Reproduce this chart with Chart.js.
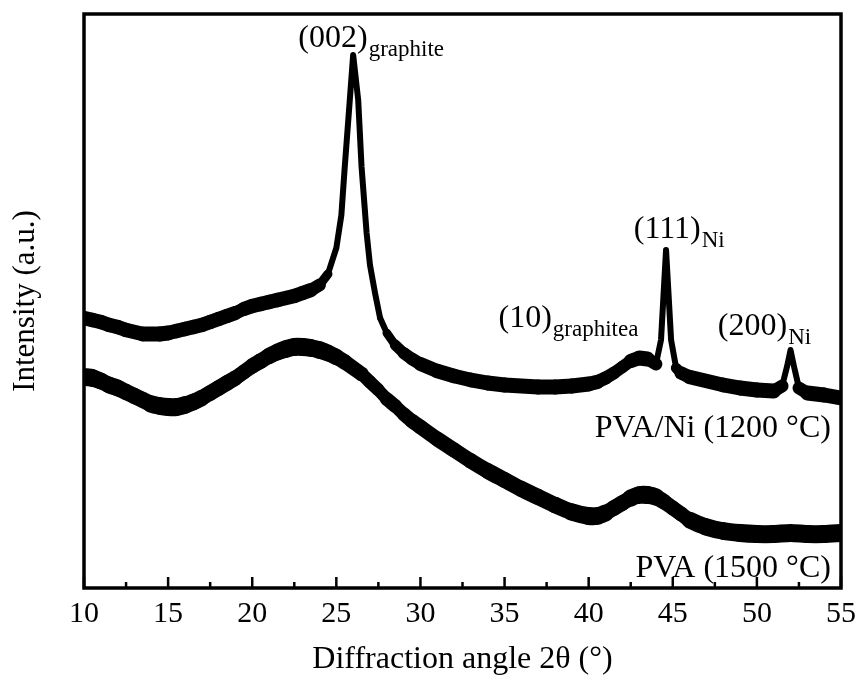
<!DOCTYPE html>
<html>
<head>
<meta charset="utf-8">
<script src="https://cdn.jsdelivr.net/npm/chart.js@4.4.1/dist/chart.umd.min.js"></script>
<style>
  html, body { margin: 0; padding: 0; background: #fff; }
  canvas { display: block; }
</style>
</head>
<body>
<canvas id="xrdChart" width="858" height="682"></canvas>
<script>
// PVA/Ni carbonised at 1200 C
const niAngles = [10, 10.5, 11, 11.5, 12, 12.5, 13, 13.5, 14, 14.5, 15, 15.5, 16, 16.5, 17, 17.5, 18, 18.5, 19, 19.5,
    20, 20.5, 21, 21.5, 22, 22.5, 23, 23.5, 24, 24.5, 25, 25.3, 25.5, 25.8, 26, 26.3, 26.5, 26.8, 27, 27.3, 27.6,
    28, 28.5, 29, 29.5, 30, 31, 32, 33, 34, 35, 36, 37, 38, 39, 40, 40.5, 41, 41.5, 42, 42.5, 43, 43.5, 44,
    44.3, 44.6, 44.9, 45.2, 45.5, 46, 47, 48, 49, 50, 51, 51.5, 51.8, 52, 52.2, 52.5, 53, 54, 55]
const niIntensity = [270, 268, 266, 263, 261, 258, 256, 254, 254, 254, 255, 257, 259, 261, 263, 266, 269, 272, 275, 279,
    282, 284, 286, 288, 290, 292, 295, 298, 303, 314, 340, 373, 421, 488, 533, 488, 421, 355, 323, 295, 270,
    255, 243, 235, 229, 224, 217, 212, 208, 205, 203, 202, 201, 201, 202, 204, 206, 210, 215, 221, 227, 230, 229, 224,
    248, 338, 248, 220, 215, 211, 207, 203, 200, 198, 197, 202, 222, 238, 222, 200, 195, 193, 190]

// PVA carbonised at 1500 C
const pvaAngles = [10, 10.5, 11, 11.5, 12, 12.5, 13, 13.5, 14, 14.5, 15, 15.5, 16, 16.5, 17, 17.5, 18, 18.5, 19, 19.5,
    20, 20.5, 21, 21.5, 22, 22.5, 23, 23.5, 24, 24.5, 25, 25.5, 26, 26.5, 27, 27.5, 28, 28.5, 29, 29.5,
    30, 31, 32, 33, 34, 35, 36, 37, 38, 39, 40, 40.5, 41, 41.5, 42, 42.5, 43, 43.5, 44, 44.5, 45, 45.5,
    46, 47, 48, 49, 50, 51, 52, 53, 54, 55]
const pvaIntensity = [211, 210, 207, 203, 200, 196, 192, 188, 184, 182, 181, 181, 183, 186, 190, 195, 200, 205, 210, 216,
    222, 227, 232, 236, 239, 241, 241, 240, 238, 235, 231, 226, 220, 214, 206, 198, 189, 182, 174, 167,
    161, 149, 138, 127, 117, 108, 99, 91, 83, 76, 72, 72, 75, 80, 85, 90, 93, 93, 91, 86, 80, 74,
    68, 61, 57, 55, 54, 54, 55, 54, 54, 55]

const xTickLabels = [10, 15, 20, 25, 30, 35, 40, 45, 50, 55]

// peak and sample labels, anchored in data units
const notes = [
    { x: 22.74, y: 541, main: '(002)', sub: 'graphite', align: 'left' },
    { x: 34.64, y: 261, main: '(10)', sub: 'graphitea', align: 'left' },
    { x: 42.68, y: 350, main: '(111)', sub: 'Ni', align: 'left' },
    { x: 47.68, y: 253, main: '(200)', sub: 'Ni', align: 'left' },
    { x: 54.4, y: 151, main: 'PVA/Ni (1200 \u00B0C)', sub: '', align: 'right' },
    { x: 54.4, y: 11, main: 'PVA (1500 \u00B0C)', sub: '', align: 'right' }
]

const serif = 'Liberation Serif'

function toPoints(xs, ys) {
    return xs.map((x, i) => ({ x: x, y: ys[i] }))
}

// the noise band keeps its vertical height, so slanted segments get thinner
function bandWidth(band, minW) {
    return ctx => {
        const dx = Math.abs(ctx.p1.x - ctx.p0.x)
        const dy = Math.abs(ctx.p1.y - ctx.p0.y)
        const s = dy / (dx || 1)
        return Math.max(minW, band / Math.sqrt(1 + s * s))
    }
}

const framePlugin = {
    id: 'frame',
    afterDatasetsDraw(chart) {
        const { ctx, chartArea: a, scales } = chart
        ctx.save()
        ctx.strokeStyle = '#000'
        ctx.lineWidth = 3.5
        ctx.strokeRect(a.left, a.top, a.right - a.left, a.bottom - a.top)

        // inward ticks on the bottom axis
        ctx.lineWidth = 2.5
        scales.x.ticks.forEach(t => {
            const px = scales.x.getPixelForValue(t.value)
            const len = t.value % 5 === 0 ? 11 : 6
            ctx.beginPath()
            ctx.moveTo(px, a.bottom)
            ctx.lineTo(px, a.bottom - len)
            ctx.stroke()
        })

        ctx.fillStyle = '#000'
        ctx.textBaseline = 'alphabetic'
        notes.forEach(n => {
            let px = scales.x.getPixelForValue(n.x)
            const py = scales.y.getPixelForValue(n.y)
            ctx.font = '32px "' + serif + '"'
            const w = ctx.measureText(n.main).width
            if (n.align === 'right') px -= w
            ctx.fillText(n.main, px, py)
            if (n.sub) {
                ctx.font = '23px "' + serif + '"'
                ctx.fillText(n.sub, px + w + 1, py + 9)
            }
        })
        ctx.restore()
    }
}

const xrdChart = new Chart(document.getElementById('xrdChart'), {
    type: 'line',
    data: {
        datasets: [{
            label: 'PVA/Ni (1200 \u00B0C)',
            data: toPoints(niAngles, niIntensity),
            borderColor: '#000',
            borderWidth: 15,
            borderJoinStyle: 'round',
            borderCapStyle: 'round',
            segment: { borderWidth: bandWidth(15, 6) },
            pointRadius: 0,
            tension: 0
        }, {
            label: 'PVA (1500 \u00B0C)',
            data: toPoints(pvaAngles, pvaIntensity),
            borderColor: '#000',
            borderWidth: 18,
            borderJoinStyle: 'round',
            borderCapStyle: 'round',
            segment: { borderWidth: bandWidth(18, 6) },
            pointRadius: 0,
            tension: 0.2
        }]
    },
    options: {
        responsive: false,
        animation: false,
        devicePixelRatio: 1,
        layout: { padding: { top: 14, right: 17, left: 0, bottom: 0 } },
        plugins: {
            legend: { display: false },
            tooltip: { enabled: false }
        },
        scales: {
            x: {
                type: 'linear',
                min: 10,
                max: 55,
                afterFit: scale => {
                    scale.height = 94
                    scale.paddingLeft = 0
                    scale.paddingRight = 0
                },
                grid: { display: false, drawTicks: false },
                border: { display: false },
                ticks: {
                    stepSize: 2.5,
                    autoSkip: false,
                    maxRotation: 0,
                    padding: 8,
                    color: '#000',
                    font: { family: serif, size: 30 },
                    callback: v => xTickLabels.includes(v) ? String(v) : ''
                },
                title: {
                    display: true,
                    text: 'Diffraction angle 2\u03B8 (\u00B0)',
                    color: '#000',
                    font: { family: serif, size: 32 },
                    padding: { top: 0, bottom: 3 }
                }
            },
            y: {
                min: 0,
                max: 574,
                afterFit: scale => { scale.width = 84 },
                grid: { display: false, drawTicks: false },
                border: { display: false },
                ticks: { display: false },
                title: {
                    display: true,
                    text: 'Intensity (a.u.)',
                    color: '#000',
                    font: { family: serif, size: 31 },
                    padding: { top: 7, bottom: 0 }
                }
            }
        }
    },
    plugins: [framePlugin]
})
</script>
</body>
</html>
